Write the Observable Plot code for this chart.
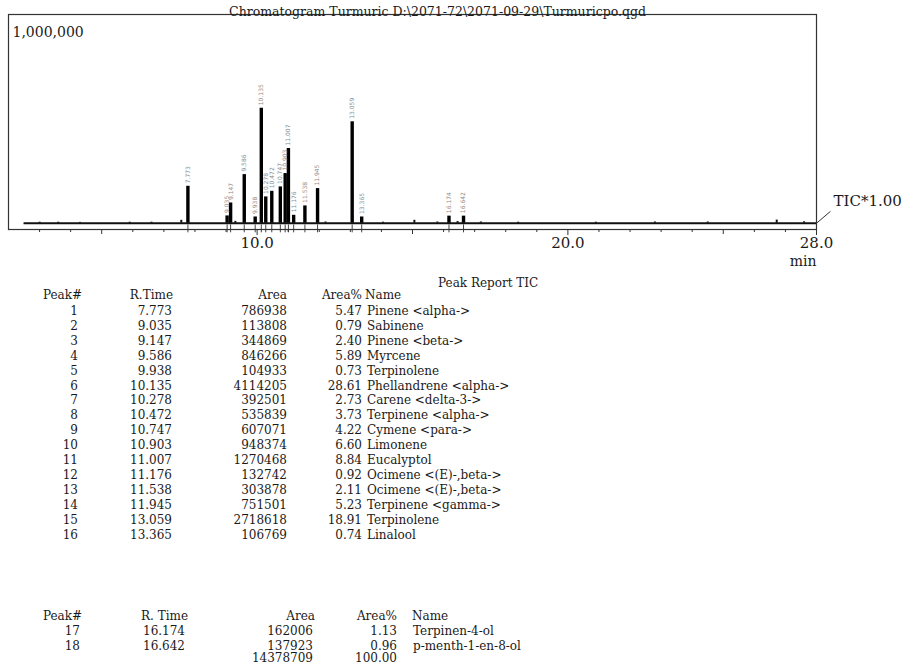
<!DOCTYPE html>
<html><head><meta charset="utf-8">
<script src="https://cdn.jsdelivr.net/npm/d3@7"></script>
<script src="https://cdn.jsdelivr.net/npm/@observablehq/plot@0.6"></script>
<style>
html,body{margin:0;padding:0;background:#fff}
body{width:912px;height:665px;overflow:hidden;position:relative;font-family:"DejaVu Serif",serif;color:#1a1a1a}
#chart{position:absolute;left:0;top:0}
.c{position:absolute;font-size:12px;line-height:12px;white-space:pre}
</style></head><body>
<div id="chart"></div>
<div id="tables"></div>
<script>
// ---- data ----
const chartTitle = "Chromatogram Turmuric D:\\2071-72\\2071-09-29\\Turmuricpo.qgd";
const reportTitle = "Peak Report TIC";
const peakNo = [1,2,3,4,5,6,7,8,9,10,11,12,13,14,15,16,17,18];
const rTime = [7.773,9.035,9.147,9.586,9.938,10.135,10.278,10.472,10.747,10.903,11.007,11.176,11.538,11.945,13.059,13.365,16.174,16.642];
const area = [786938,113808,344869,846266,104933,4114205,392501,535839,607071,948374,1270468,132742,303878,751501,2718618,106769,162006,137923];
const areaPct = [5.47,0.79,2.40,5.89,0.73,28.61,2.73,3.73,4.22,6.60,8.84,0.92,2.11,5.23,18.91,0.74,1.13,0.96];
const names = ["Pinene <alpha->","Sabinene","Pinene <beta->","Myrcene","Terpinolene","Phellandrene <alpha->","Carene <delta-3->","Terpinene <alpha->","Cymene <para->","Limonene","Eucalyptol","Ocimene <(E)-,beta->","Ocimene <(E)-,beta->","Terpinene <gamma->","Terpinolene","Linalool","Terpinen-4-ol","p-menth-1-en-8-ol"];
// peak heights (intensity counts)
const peakHeight = [177000,35000,97000,233000,30000,551000,126000,153000,174000,238000,358000,38000,83000,166000,486000,30000,34000,34000];
// small baseline bumps
const minorRt = [3.0,3.6,4.3,5.9,6.6,7.56,9.3,12.2,14.05,15.06,15.8,16.45,17.2,18.4,20.9,22.8,24.5,26.72,27.6];
const minorHeight = [5000,5000,4000,5000,5000,14000,9000,6000,5000,14000,6000,8000,6000,5000,5000,6000,6000,15000,7000];
const signalRange = [2.5, 28];
const totalArea = 14378709;
const totalPct = "100.00";
const yMaxLabel = "1,000,000";
const ticLabel = "TIC*1.00";
const xUnit = "min";
const xMajorTicks = [10, 20, 28];
const xMidTicks = [5, 15, 25];
const xMinorTicks = [3,4,6,7,8,9,11,12,13,14,16,17,18,19,21,22,23,24,26,27];

const peaks = rTime.map((t, i) => ({t, h: peakHeight[i], label: d3.format(".3f")(t)}));
const minor = minorRt.map((t, i) => ({t, h: minorHeight[i]}));

const FONT = "DejaVu Serif";
const chart = Plot.plot({
  width: 912, height: 272,
  marginLeft: 8, marginRight: 96, marginTop: 14, marginBottom: 43,
  x: {domain: [2, 28]},
  y: {domain: [-30000, 1000000], axis: null},
  style: {fontFamily: FONT, background: "#fff", color: "#1a1a1a", overflow: "visible"},
  marks: [
    Plot.ruleY([0], {x1: signalRange[0], x2: signalRange[1], stroke: "#111", strokeWidth: 2}),
    Plot.ruleX(minor, {x: "t", y1: 0, y2: "h", stroke: "#111", strokeWidth: 2}),
    Plot.ruleX(peaks, {x: "t", y1: 0, y2: "h", stroke: "#000", strokeWidth: 3.4}),
    Plot.ruleX(peaks, {x: "t", y1: -8000, y2: -46000, stroke: "#444", strokeWidth: 1}),
    Plot.text(peaks, {x: "t", y: "h", text: "label", rotate: -90, textAnchor: "start", dy: -3, fontSize: 6, fill: "#8a8a8a", fontFamily: "DejaVu Sans"}),
    Plot.frame({stroke: "#333", strokeWidth: 1.2}),
    Plot.axisX({ticks: xMinorTicks, tickSize: 3, tickFormat: () => "", label: null, stroke: "#333"}),
    Plot.axisX({ticks: xMidTicks, tickSize: 5, tickFormat: () => "", label: null, stroke: "#333"}),
    Plot.axisX({ticks: xMajorTicks, tickSize: 6, tickPadding: 2, tickFormat: d3.format(".1f"), fontSize: 15, label: null, stroke: "#333"}),
    Plot.text([xUnit], {text: d => d, frameAnchor: "bottom-right", dy: 36, textAnchor: "end", fontSize: 14}),
    Plot.text([yMaxLabel], {text: d => d, frameAnchor: "top-left", dx: 4, dy: 13, textAnchor: "start", fontSize: 14}),
    Plot.text([ticLabel], {text: d => d, frameAnchor: "bottom-right", dx: 17, dy: -24, textAnchor: "start", fontSize: 15}),
    Plot.link([signalRange], {x1: d => d[1], y1: () => 0, x2: d => d[1] + 0.45, y2: () => 57000, stroke: "#333", strokeWidth: 1}),
    Plot.text([chartTitle], {text: d => d, frameAnchor: "top", dx: 25, dy: -7, fontSize: 12.5})
  ]
});
document.getElementById("chart").appendChild(chart);

// ---- tables ----
const tables = document.getElementById("tables");
function cell(txt, x, y, align) {
  const d = document.createElement("div");
  d.className = "c";
  d.textContent = txt;
  d.style.top = (y - 6) + "px";
  if (align === "right") d.style.right = (912 - x) + "px"; else d.style.left = x + "px";
  tables.appendChild(d);
}
cell(reportTitle, 438, 283, "left");
// table 1
const t1 = {no: 78, rt: 172, ar: 287, pc: 362, nm: 367};
cell("Peak#", 82, 295, "right"); cell("R.Time", 173, 295, "right"); cell("Area", 287, 295, "right");
cell("Area%", 362, 295, "right"); cell("Name", 365, 295, "left");
for (let i = 0; i < 16; i++) {
  const y = 311 + i * 14.9;
  cell(String(peakNo[i]), t1.no, y, "right");
  cell(d3.format(".3f")(rTime[i]), t1.rt, y, "right");
  cell(String(area[i]), t1.ar, y, "right");
  cell(d3.format(".2f")(areaPct[i]), t1.pc, y, "right");
  cell(names[i], t1.nm, y, "left");
}
// table 2
cell("Peak#", 82, 616, "right"); cell("R. Time", 188, 616, "right"); cell("Area", 315, 616, "right");
cell("Area%", 397, 616, "right"); cell("Name", 412, 616, "left");
for (let i = 16; i < 18; i++) {
  const y = 631 + (i - 16) * 14.5;
  cell(String(peakNo[i]), 80, y, "right");
  cell(d3.format(".3f")(rTime[i]), 185, y, "right");
  cell(String(area[i]), 313, y, "right");
  cell(d3.format(".2f")(areaPct[i]), 397, y, "right");
  cell(names[i], 413, y, "left");
}
cell(String(totalArea), 313, 658, "right");
cell(totalPct, 397, 658, "right");
</script>
</body></html>
